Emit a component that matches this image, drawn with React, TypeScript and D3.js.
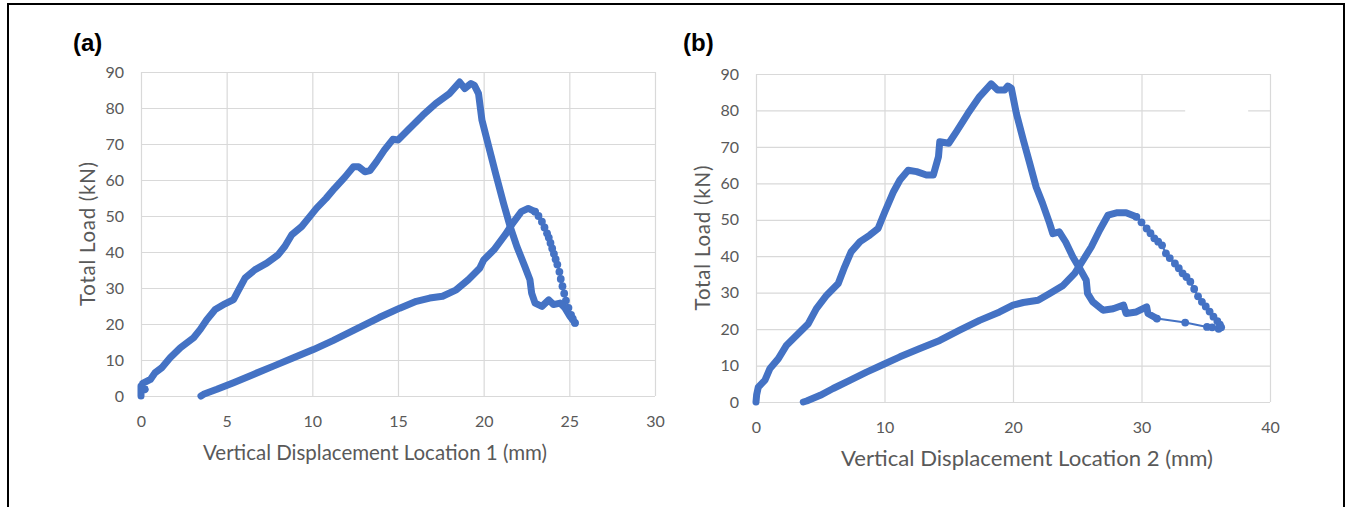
import { useEffect, useRef } from 'react'
import * as d3 from 'd3'

// panel (a): Vertical Displacement Location 1
const aUpX = [0, 0, 0.25, 0.1, 0.55, 0.83, 1.2, 1.7, 2.3, 3.07, 3.46, 3.84, 4.33, 4.9, 5.4, 5.7, 6.08, 6.66, 7.34, 8.0, 8.4, 8.8, 9.38, 9.86, 10.25, 10.8, 11.3, 11.9, 12.4, 12.7, 13.07, 13.36, 13.75, 14.2, 14.7, 15.0, 15.67, 16.45, 17.2, 18.0, 18.6, 18.9, 19.26, 19.46, 19.7, 19.9, 20.3, 20.7, 21.16, 21.55, 21.94, 22.4, 22.7, 22.8, 23.0, 23.4, 23.8, 24.07, 24.46, 24.75, 25.04, 25.33]
const aUpY = [0, 2.8, 1.8, 3.5, 4.6, 6.5, 7.8, 10.6, 13.4, 16.2, 18.5, 21.2, 24, 25.6, 26.8, 29.5, 32.8, 35.1, 36.9, 39.2, 41.6, 44.8, 47.1, 49.9, 52.2, 54.9, 57.7, 60.8, 63.7, 63.7, 62.3, 62.6, 65.1, 68.3, 71.3, 71.1, 74.3, 78, 81.2, 84, 87.2, 85.4, 86.8, 86.3, 84, 76.6, 69.2, 61.8, 53.5, 47, 41.5, 36, 32.3, 28.6, 25.8, 24.9, 26.7, 25.4, 25.8, 24.4, 22.1, 20.3]
const aDotX = [25.33, 25.2, 25.1, 24.95, 24.8, 24.7, 24.6, 24.5, 24.42, 24.3, 24.2, 24.1, 24.0, 23.9, 23.8, 23.7, 23.55, 23.4, 23.2, 23.0]
const aDotY = [20.3, 21.5, 22.5, 24.5, 26.5, 28.5, 30.5, 32.5, 34.5, 36.5, 38, 39.5, 41, 42.5, 44, 45.2, 46.8, 48.4, 50, 51.2]
const aBackX = [23.0, 22.6, 22.2, 21.7, 21.26, 20.6, 20.0, 19.77, 19.1, 18.4, 17.6, 16.85, 16.07, 15.1, 13.9, 12.4, 11.2, 10.06, 8.9, 7.73, 6.56, 5.4, 4.43, 3.65, 3.5]
const aBackY = [51.2, 52.1, 51.2, 48, 44.8, 40.6, 37.8, 35.5, 32.3, 29.5, 27.7, 27.2, 26.3, 24.4, 21.8, 18.2, 15.4, 12.9, 10.6, 8.3, 6, 3.7, 1.85, 0.46, 0]

// panel (b): Vertical Displacement Location 2
const bUpX = [0, 0.05, 0.18, 0.7, 1.09, 1.74, 2.38, 3.3, 4.07, 4.7, 5.5, 6.4, 6.9, 7.4, 8.1, 8.86, 9.5, 10.03, 10.7, 11.2, 11.84, 12.5, 13.26, 13.8, 14.2, 14.3, 15.0, 15.6, 16.5, 17.4, 18.3, 18.8, 19.35, 19.6, 19.87, 20.26, 20.8, 21.3, 21.8, 22.3, 22.85, 23.1, 23.6, 24.1, 24.66, 25.2, 25.7, 25.8, 26.2, 27.0, 27.8, 28.6, 28.8, 29.6, 30.4, 30.5, 31.2]
const bUpY = [0, 2, 4.1, 6, 9.2, 11.9, 15.6, 18.8, 21.5, 25.6, 29.3, 32.5, 37.1, 41.2, 44, 45.8, 47.6, 52.2, 57.7, 60.9, 63.6, 63.2, 62.3, 62.3, 67.3, 71.4, 71.0, 74.2, 79.2, 83.8, 87.3, 85.6, 85.6, 86.7, 86.1, 79.2, 71.9, 65.5, 59, 54.5, 49, 46.2, 46.7, 43.9, 39.8, 36.6, 33.4, 29.8, 27.5, 25.2, 25.6, 26.6, 24.3, 24.7, 26.1, 24.3, 22.9]
const bDotX = [31.2, 33.4, 35.1, 35.5, 36.0, 36.2, 36.1, 35.9, 35.6, 35.3, 35.0, 34.7, 34.4, 34.1, 33.8, 33.5, 33.2, 32.9, 32.6, 32.2, 31.9, 31.6, 31.3, 31.0, 30.7, 30.4, 30.0, 29.6]
const bDotY = [22.9, 21.8, 20.6, 20.5, 20.1, 20.5, 21.2, 22.2, 23.4, 24.8, 26.2, 27.5, 29, 31, 33, 34.3, 35.3, 36.7, 38, 39.5, 40.8, 43, 44, 44.9, 46.3, 47.6, 49.3, 50.8]
const bBackX = [29.6, 28.8, 28.05, 27.4, 26.75, 26.1, 25.45, 24.8, 23.9, 22.86, 21.95, 20.8, 20.0, 18.96, 17.4, 15.85, 14.3, 12.75, 11.2, 9.9, 8.6, 7.3, 6.0, 5.0, 3.94, 3.68]
const bBackY = [50.8, 51.9, 51.9, 51.3, 47.2, 42.6, 38.9, 35.3, 32, 29.8, 27.9, 27.3, 26.6, 24.7, 22.4, 19.7, 16.9, 14.7, 12.4, 10.3, 8.2, 5.95, 3.7, 1.83, 0.27, 0]

const yTicks = [0, 10, 20, 30, 40, 50, 60, 70, 80, 90]
const aXTicks = [0, 5, 10, 15, 20, 25, 30]
const bXTicks = [0, 10, 20, 30, 40]

const BLUE = '#4472c4'
const GRID = '#d9d9d9'
const TEXT = '#595959'
const FONT = 'Lato, "Open Sans", sans-serif'

const zip = (xs, ys) => xs.map((x, i) => [x, ys[i]])

const panels = [
  {
    tag: '(a)', tagX: 73,
    box: { left: 141, right: 655, top: 72, bottom: 396 },
    xMax: 30, xTicks: aXTicks,
    xTitle: 'Vertical Displacement Location 1 (mm)', xTitleX: 375, xTitleLen: 344, yTitleLen: 144,
    up: zip(aUpX, aUpY), dots: zip(aDotX, aDotY), back: zip(aBackX, aBackY),
    gap: null,
  },
  {
    tag: '(b)', tagX: 683,
    box: { left: 756, right: 1270, top: 74, bottom: 402 },
    xMax: 40, xTicks: bXTicks,
    xTitle: 'Vertical Displacement Location 2 (mm)', xTitleX: 1027, xTitleLen: 372, yTitleLen: 145,
    up: zip(bUpX, bUpY), dots: zip(bDotX, bDotY), back: zip(bBackX, bBackY),
    gap: [33.4, 38.3],
  },
]

export default function App() {
  const svgRef = useRef(null)

  useEffect(() => {
    const svg = d3.select(svgRef.current)
    svg.selectAll('*').remove()

    svg.append('rect')
      .attr('x', 8).attr('y', 4).attr('width', 1336).attr('height', 520)
      .attr('fill', '#fff').attr('stroke', '#000').attr('stroke-width', 2)

    panels.forEach((p) => {
      const { left, right, top, bottom } = p.box
      const x = d3.scaleLinear().domain([0, p.xMax]).range([left, right])
      const y = d3.scaleLinear().domain([0, 90]).range([bottom, top])

      const g = svg.append('g')

      g.append('g')
        .attr('transform', `translate(0,${bottom})`)
        .call(d3.axisBottom(x).tickValues(p.xTicks).tickSize(-(bottom - top)).tickFormat(''))
        .call((ax) => ax.select('.domain').remove())
        .call((ax) => ax.selectAll('.tick line').attr('stroke', GRID).attr('stroke-width', 1.2))

      g.append('g')
        .attr('transform', `translate(${left},0)`)
        .call(d3.axisLeft(y).tickValues(yTicks).tickSize(-(right - left)).tickFormat(''))
        .call((ax) => ax.select('.domain').remove())
        .call((ax) => ax.selectAll('.tick line').attr('stroke', GRID).attr('stroke-width', 1.2))

      if (p.gap) {
        g.append('rect')
          .attr('x', x(p.gap[0])).attr('y', y(80) - 2)
          .attr('width', x(p.gap[1]) - x(p.gap[0])).attr('height', 4)
          .attr('fill', '#fff')
      }

      g.append('g')
        .attr('transform', `translate(${left - 14},0)`)
        .call(d3.axisLeft(y).tickValues(yTicks).tickSize(0))
        .call((ax) => ax.select('.domain').remove())
        .call((ax) => ax.selectAll('text')
          .attr('fill', TEXT).attr('font-size', 16).attr('font-family', FONT))

      g.append('g')
        .attr('transform', `translate(0,${bottom + 17})`)
        .call(d3.axisBottom(x).tickValues(p.xTicks).tickSize(0))
        .call((ax) => ax.select('.domain').remove())
        .call((ax) => ax.selectAll('text')
          .attr('fill', TEXT).attr('font-size', 16).attr('font-family', FONT))

      g.append('text')
        .attr('x', p.xTitleX).attr('y', bottom + 64)
        .attr('text-anchor', 'middle').attr('fill', TEXT)
        .attr('font-size', 20.5).attr('font-family', FONT)
        .attr('textLength', p.xTitleLen).attr('lengthAdjust', 'spacingAndGlyphs')
        .text(p.xTitle)

      g.append('text')
        .attr('transform', `translate(${left - 46},${(top + bottom) / 2}) rotate(-90)`)
        .attr('text-anchor', 'middle').attr('fill', TEXT)
        .attr('font-size', 20.5).attr('font-family', FONT)
        .attr('textLength', p.yTitleLen).attr('lengthAdjust', 'spacing')
        .text('Total Load (kN)')

      g.append('text')
        .attr('x', p.tagX).attr('y', 51)
        .attr('fill', '#000').attr('font-size', 24).attr('font-weight', 'bold')
        .attr('font-family', 'Arial, "Liberation Sans", sans-serif')
        .text(p.tag)

      const line = d3.line().x((d) => x(d[0])).y((d) => y(d[1]))

      g.append('path')
        .attr('d', line(p.dots))
        .attr('fill', 'none').attr('stroke', BLUE).attr('stroke-width', 2)

      g.selectAll('circle.dot')
        .data(p.dots)
        .join('circle')
        .attr('class', 'dot')
        .attr('cx', (d) => x(d[0])).attr('cy', (d) => y(d[1]))
        .attr('r', 3.9).attr('fill', BLUE)

      ;[p.up, p.back].forEach((seg) => {
        g.append('path')
          .attr('d', line(seg))
          .attr('fill', 'none').attr('stroke', BLUE).attr('stroke-width', 7)
          .attr('stroke-linejoin', 'round').attr('stroke-linecap', 'round')
      })
    })
  }, [])

  return (
    <div style={{ position: 'fixed', left: 0, top: 0 }}>
      <svg ref={svgRef} width={1349} height={507} style={{ display: 'block' }} />
    </div>
  )
}
